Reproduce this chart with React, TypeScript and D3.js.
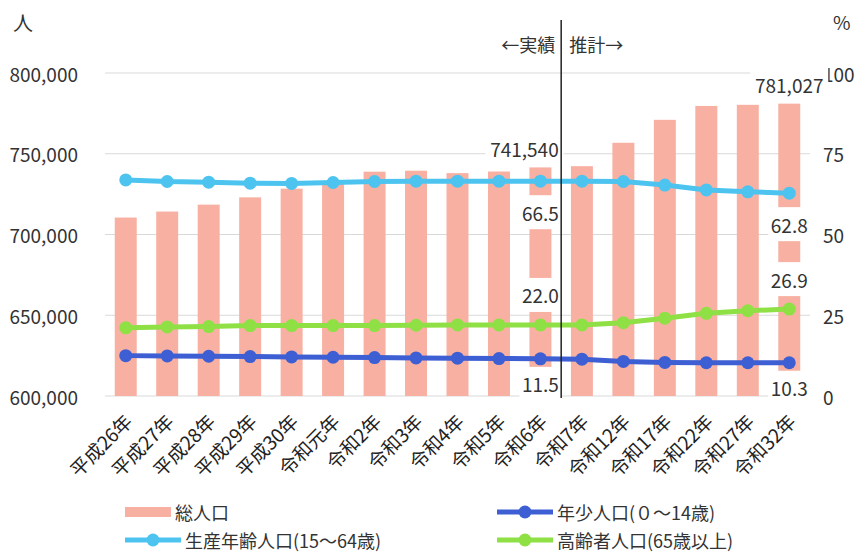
import React, { useRef, useEffect } from 'react';
import * as d3 from 'd3';

const categories = [
  '平成26年', '平成27年', '平成28年', '平成29年', '平成30年', '令和元年',
  '令和2年', '令和3年', '令和4年', '令和5年', '令和6年', '令和7年',
  '令和12年', '令和17年', '令和22年', '令和27年', '令和32年',
];
const totalPop = [
  710500, 714200, 718500, 723000, 728400, 732700, 738900, 739500, 738000,
  739000, 741540, 742300, 756800, 771000, 779600, 780300, 781027,
];
const youthPct = [12.5, 12.4, 12.3, 12.2, 12.1, 12.0, 11.9, 11.8, 11.7, 11.6, 11.5, 11.4, 10.7, 10.4, 10.3, 10.3, 10.3];
const workingPct = [66.9, 66.4, 66.2, 65.9, 65.8, 66.1, 66.4, 66.5, 66.5, 66.5, 66.5, 66.5, 66.4, 65.3, 63.8, 63.2, 62.8];
const elderlyPct = [21.1, 21.4, 21.5, 21.8, 21.8, 21.8, 21.8, 21.9, 22.0, 22.0, 22.0, 22.0, 22.7, 24.1, 25.6, 26.4, 26.9];
const leftTicks = [600000, 650000, 700000, 750000, 800000];
const rightTicks = [0, 25, 50, 75, 100];
const labelIdx = [10, 16];

const FONT = '"Noto Sans CJK JP", "Noto Sans", sans-serif';
const BAR = '#f8b0a2';
const YOUTH = '#3d5fd3';
const WORK = '#4cc4ef';
const OLD = '#8fe045';

const App: React.FC = () => {
  const svgRef = useRef<SVGSVGElement | null>(null);

  useEffect(() => {
    const svg = d3.select(svgRef.current!);
    svg.selectAll('*').remove();

    const x = d3.scaleBand<string>()
      .domain(categories)
      .range([105, 810])
      .paddingInner(0.47)
      .paddingOuter(0.235);
    const cx = (i: number) => x(categories[i])! + x.bandwidth() / 2;

    const yL = d3.scaleLinear().domain([600000, 800000]).range([396, 73]);
    const yR = d3.scaleLinear().domain([0, 100]).range([396, 73]);

    // grid
    svg.append('g')
      .selectAll('line')
      .data(leftTicks)
      .join('line')
      .attr('x1', 105)
      .attr('x2', 810)
      .attr('y1', (d) => yL(d))
      .attr('y2', (d) => yL(d))
      .attr('stroke', '#d9d9d9')
      .attr('stroke-width', 1.2);

    // left axis labels
    svg.append('g')
      .selectAll('text')
      .data(leftTicks)
      .join('text')
      .attr('x', 78)
      .attr('y', (d) => yL(d))
      .attr('text-anchor', 'end')
      .attr('dominant-baseline', 'central')
      .attr('font-size', 19)
      .attr('fill', '#333')
      .text((d) => d3.format(',')(d));

    // right axis labels
    svg.append('g')
      .selectAll('text')
      .data(rightTicks)
      .join('text')
      .attr('x', 823)
      .attr('y', (d) => yR(d))
      .attr('dominant-baseline', 'central')
      .attr('font-size', 19)
      .attr('fill', '#333')
      .text((d) => d);

    svg.append('text').attr('x', 13).attr('y', 31).attr('font-size', 20).attr('fill', '#333').text('人');
    svg.append('text').attr('x', 833).attr('y', 30).attr('font-size', 19).attr('fill', '#333').text('%');

    // bars
    svg.append('g')
      .selectAll('rect')
      .data(totalPop)
      .join('rect')
      .attr('x', (_, i) => x(categories[i])!)
      .attr('width', x.bandwidth())
      .attr('y', (d) => yL(d))
      .attr('height', (d) => yL(600000) - yL(d))
      .attr('fill', BAR);

    const series = [
      { values: workingPct, color: WORK, dy: 31 },
      { values: elderlyPct, color: OLD, dy: -30 },
      { values: youthPct, color: YOUTH, dy: 25 },
    ];

    series.forEach((s) => {
      const line = d3.line<number>()
        .x((_, i) => cx(i))
        .y((d) => yR(d));
      svg.append('path')
        .datum(s.values)
        .attr('fill', 'none')
        .attr('stroke', s.color)
        .attr('stroke-width', 5)
        .attr('d', line);
      svg.append('g')
        .selectAll('circle')
        .data(s.values)
        .join('circle')
        .attr('cx', (_, i) => cx(i))
        .attr('cy', (d) => yR(d))
        .attr('r', 6.5)
        .attr('fill', s.color);
    });

    // data labels with white boxes
    const labels = svg.append('g');
    const addLabel = (lx: number, ly: number, txt: string, w: number) => {
      labels.append('rect')
        .attr('x', lx - w / 2)
        .attr('y', ly - 17)
        .attr('width', w)
        .attr('height', 34)
        .attr('fill', '#fff');
      labels.append('text')
        .attr('x', lx)
        .attr('y', ly)
        .attr('text-anchor', 'middle')
        .attr('dominant-baseline', 'central')
        .attr('font-size', 19)
        .attr('fill', '#333')
        .text(txt);
    };
    labelIdx.forEach((i, k) => {
      addLabel(cx(i) - (k === 0 ? 16 : 0), yL(totalPop[i]) - 19, d3.format(',')(totalPop[i]), 78);
      series.forEach((s) => {
        addLabel(cx(i), yR(s.values[i]) + s.dy, s.values[i].toFixed(1), 42);
      });
    });

    // divider between actual and projection
    const divX = x(categories[11])! - (x.step() - x.bandwidth()) / 2;
    svg.append('line')
      .attr('x1', divX).attr('x2', divX)
      .attr('y1', 20).attr('y2', 398)
      .attr('stroke', '#222')
      .attr('stroke-width', 1.5);
    svg.append('text').attr('x', divX - 6).attr('y', 44).attr('text-anchor', 'end')
      .attr('dominant-baseline', 'central').attr('font-size', 18).attr('fill', '#333').text('←実績');
    svg.append('text').attr('x', divX + 8).attr('y', 44)
      .attr('dominant-baseline', 'central').attr('font-size', 18).attr('fill', '#333').text('推計→');

    // category labels
    svg.append('g')
      .selectAll('text')
      .data(categories)
      .join('text')
      .attr('transform', (_, i) => `translate(${cx(i) + 2},${417}) rotate(-45)`)
      .attr('text-anchor', 'end')
      .attr('dominant-baseline', 'central')
      .attr('font-size', 19)
      .attr('fill', '#222')
      .text((d) => d);

    // legend
    const legend = svg.append('g');
    const items = [
      { name: '総人口', color: BAR, bar: true, lx: 125, ly: 512 },
      { name: '年少人口(０～14歳)', color: YOUTH, bar: false, lx: 497, ly: 512 },
      { name: '生産年齢人口(15～64歳)', color: WORK, bar: false, lx: 125, ly: 540 },
      { name: '高齢者人口(65歳以上)', color: OLD, bar: false, lx: 497, ly: 540 },
    ];
    items.forEach((it) => {
      if (it.bar) {
        legend.append('rect').attr('x', it.lx).attr('y', it.ly - 5).attr('width', 46).attr('height', 10).attr('fill', it.color);
      } else {
        legend.append('line').attr('x1', it.lx).attr('x2', it.lx + 56)
          .attr('y1', it.ly).attr('y2', it.ly).attr('stroke', it.color).attr('stroke-width', 5);
        legend.append('circle').attr('cx', it.lx + 28).attr('cy', it.ly).attr('r', 6.5).attr('fill', it.color);
      }
      legend.append('text')
        .attr('x', it.lx + (it.bar ? 50 : 60))
        .attr('y', it.ly)
        .attr('dominant-baseline', 'central')
        .attr('font-size', 18)
        .attr('fill', '#333')
        .text(it.name);
    });
  }, []);

  return (
    <svg
      ref={svgRef}
      width={855}
      height={553}
      style={{ position: 'absolute', left: 0, top: 0, background: '#fff', fontFamily: FONT }}
    />
  );
};

export default App;
